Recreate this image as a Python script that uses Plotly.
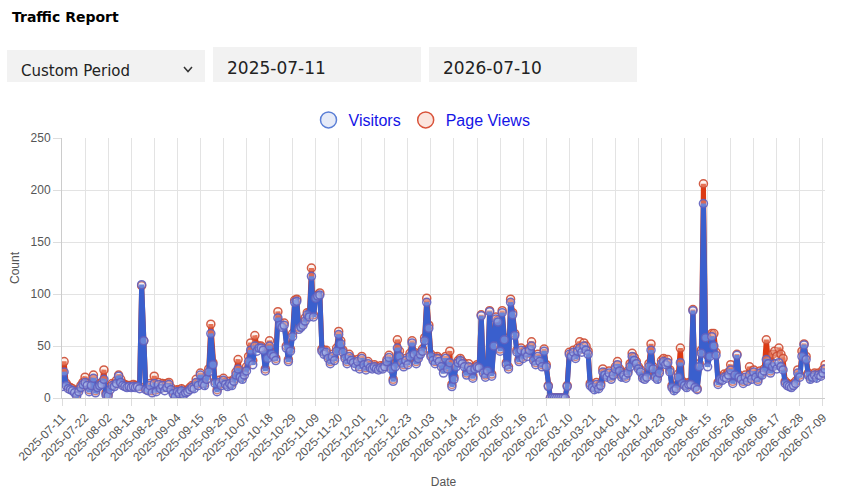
import pandas as pd
import plotly.graph_objects as go

START_DATE = "2025-07-11"
END_DATE = "2026-07-10"

visitors = [
    11, 25, 12, 9, 8, 7, 5, 2, 6, 10,
    13, 15, 12, 6, 12, 19, 5, 10, 12, 13,
    18, 3, 2, 8, 12, 11, 14, 21, 15, 12,
    11, 10, 11, 10, 11, 10, 11, 9, 109, 55,
    8, 7, 12, 5, 14, 6, 13, 9, 12, 7,
    10, 13, 8, 4, 1, 6, 4, 7, 3, 5,
    6, 8, 10, 9, 15, 12, 22, 14, 12, 18,
    25, 62, 32, 14, 6, 15, 12, 17, 13, 11,
    14, 12, 16, 22, 28, 20, 18, 22, 26, 35,
    46, 32, 50, 45, 48, 48, 46, 26, 38, 50,
    42, 40, 36, 77, 70, 68, 70, 48, 35, 45,
    59, 92, 93, 66, 68, 70, 74, 80, 78, 117,
    78, 96, 98, 99, 45, 42, 44, 38, 33, 40,
    36, 45, 61, 52, 44, 38, 33, 40, 36, 34,
    30, 35, 28, 38, 32, 27, 33, 29, 28, 30,
    28, 27, 29, 28, 30, 35, 39, 28, 16, 30,
    48, 40, 34, 30, 36, 32, 40, 53, 42, 33,
    38, 42, 45, 55, 92, 67, 40, 36, 33, 38,
    35, 30, 24, 38, 28, 34, 11, 18, 30, 34,
    36, 33, 30, 22, 30, 27, 19, 28, 30, 29,
    79, 24, 20, 26, 83, 21, 50, 76, 73, 45,
    82, 56, 32, 28, 92, 80, 60, 44, 35, 46,
    38, 44, 40, 46, 50, 36, 32, 40, 35, 30,
    45, 30, 11, 0, 0, 0, 0, 0, 0, 0,
    0, 11, 42, 40, 44, 38, 45, 48, 44, 50,
    46, 42, 12, 10, 8, 13, 9, 12, 25, 22,
    20, 24, 18, 22, 28, 32, 26, 20, 22, 19,
    24, 30, 40, 36, 33, 28, 25, 19, 18, 20,
    30, 46, 28, 20, 18, 24, 33, 35, 32, 34,
    25, 10, 7, 9, 20, 34, 14, 12, 10, 13,
    13, 84, 10, 8, 30, 43, 187, 58, 30, 40,
    59, 50, 41, 13, 18, 17, 20, 19, 22, 27,
    14, 22, 41, 20, 18, 14, 20, 16, 22, 18,
    25, 20, 16, 24, 22, 26, 37, 33, 24, 30,
    33, 28, 34, 30, 27, 14, 12, 11, 10, 12,
    14, 24, 20, 40, 51, 37, 22, 18, 20, 22,
    19, 22, 21, 24, 28,
]

page_views = [
    17, 35, 14, 11, 10, 9, 7, 4, 8, 12,
    15, 20, 14, 8, 14, 22, 7, 12, 14, 15,
    27, 5, 4, 11, 14, 13, 17, 22, 18, 14,
    13, 12, 12, 12, 13, 12, 12, 11, 108, 55,
    9, 9, 14, 7, 21, 8, 15, 11, 14, 10,
    14, 15, 10, 6, 3, 8, 6, 9, 5, 7,
    8, 10, 12, 12, 18, 14, 24, 16, 14, 21,
    28, 71, 34, 16, 8, 17, 14, 19, 15, 13,
    16, 14, 18, 25, 37, 22, 20, 25, 30, 40,
    53, 36, 60, 50, 50, 50, 48, 28, 42, 55,
    44, 43, 38, 83, 72, 70, 72, 50, 37, 47,
    62, 94, 95, 68, 70, 72, 77, 82, 80, 125,
    80, 98, 99, 101, 47, 44, 46, 40, 35, 42,
    38, 48, 64, 55, 46, 40, 35, 42, 38, 36,
    33, 37, 30, 40, 34, 29, 35, 31, 30, 32,
    30, 29, 31, 30, 32, 37, 41, 30, 18, 33,
    56, 45, 36, 32, 38, 34, 43, 55, 44, 35,
    40, 44, 47, 58, 96, 70, 42, 38, 35, 40,
    38, 33, 28, 40, 30, 45, 13, 20, 33, 36,
    38, 35, 33, 24, 33, 29, 21, 30, 32, 31,
    80, 26, 22, 28, 84, 23, 52, 78, 75, 47,
    84, 58, 34, 30, 95, 82, 62, 46, 37, 48,
    40, 46, 43, 48, 54, 38, 34, 42, 37, 32,
    47, 32, 12, 0, 0, 0, 0, 0, 0, 0,
    0, 12, 44, 42, 46, 40, 48, 54, 47, 53,
    50, 45, 14, 12, 10, 15, 11, 14, 28, 24,
    22, 26, 20, 24, 30, 35, 28, 22, 24, 21,
    26, 33, 43, 39, 35, 30, 27, 21, 20, 22,
    33, 52, 30, 22, 20, 26, 36, 38, 35, 37,
    27, 12, 9, 11, 23, 48, 16, 14, 12, 15,
    15, 85, 12, 9, 33, 46, 206, 60, 41, 44,
    62, 62, 44, 15, 21, 20, 23, 22, 25, 32,
    16, 25, 42, 22, 20, 16, 22, 18, 30, 20,
    27, 22, 18, 26, 24, 28, 56, 35, 26, 42,
    45, 40, 48, 42, 38, 16, 14, 13, 12, 14,
    16, 27, 22, 45, 52, 40, 24, 20, 22, 24,
    22, 24, 23, 27, 32,
]

dates = pd.date_range(START_DATE, END_DATE, freq="D")
n = min(len(dates), len(visitors), len(page_views))
dates = dates[:n]

y_ticks = [0, 50, 100, 150, 200, 250]

W, H = 845, 500
ML, MR, MT, MB = 62, 20, 138, 102
PW, PH = W - ML - MR, H - MT - MB


def px(x):
    return (x - ML) / PW


def py(y):
    return (H - MB - y) / PH


BLUE = "#3a5fcd"
RED = "#dc3912"

fig = go.Figure()

fig.add_trace(go.Scatter(
    x=dates, y=page_views[:n], mode="lines+markers", name="Page Views",
    showlegend=False,
    line=dict(color=RED, width=5),
    marker=dict(size=8, color="rgba(250,220,210,0.35)",
                line=dict(color="rgba(205,75,50,0.9)", width=1.5)),
))
fig.add_trace(go.Scatter(
    x=dates, y=visitors[:n], mode="lines+markers", name="Visitors",
    showlegend=False,
    line=dict(color=BLUE, width=5),
    marker=dict(size=8, color="rgba(215,222,245,0.3)",
                line=dict(color="rgba(95,95,190,0.9)", width=1.5)),
))
# legend entries
fig.add_trace(go.Scatter(
    x=[None], y=[None], mode="markers", name="Visitors", legendrank=1,
    marker=dict(size=22, color="#e6ebf8", line=dict(color="#5b7fd6", width=1.5)),
))
fig.add_trace(go.Scatter(
    x=[None], y=[None], mode="markers", name="Page Views", legendrank=2,
    marker=dict(size=22, color="#fbe5de", line=dict(color="#d9533a", width=1.5)),
))

shapes = []
for (x0, x1, y0, y1) in [(7, 205, 50, 82), (213, 421, 47, 82), (429, 637, 47, 82)]:
    shapes.append(dict(type="rect", xref="paper", yref="paper",
                       x0=px(x0), x1=px(x1), y0=py(y1), y1=py(y0),
                       fillcolor="#f2f2f2", line=dict(width=0), layer="above"))
shapes.append(dict(type="path", xref="paper", yref="paper",
                   path=f"M {px(184)},{py(67)} L {px(188)},{py(71.5)} L {px(192)},{py(67)}",
                   line=dict(color="#333333", width=1.5)))

annotations = [
    dict(text="<b>Traffic Report</b>", x=px(10), y=py(17), xref="paper", yref="paper",
         xanchor="left", yanchor="middle", showarrow=False,
         font=dict(family="DejaVu Sans", size=14, color="#000000")),
    dict(text="Custom Period", x=px(19), y=py(71), xref="paper", yref="paper",
         xanchor="left", yanchor="middle", showarrow=False,
         font=dict(family="DejaVu Sans", size=15, color="#222222")),
    dict(text="2025-07-11", x=px(225), y=py(68), xref="paper", yref="paper",
         xanchor="left", yanchor="middle", showarrow=False,
         font=dict(family="DejaVu Sans", size=17, color="#222222")),
    dict(text="2026-07-10", x=px(441), y=py(68), xref="paper", yref="paper",
         xanchor="left", yanchor="middle", showarrow=False,
         font=dict(family="DejaVu Sans", size=17, color="#222222")),
]

fig.update_layout(
    width=W, height=H,
    margin=dict(l=ML, r=MR, t=MT, b=MB, pad=0, autoexpand=False),
    paper_bgcolor="white", plot_bgcolor="white",
    font=dict(family="Liberation Sans, Arial, sans-serif", size=12, color="#555555"),
    shapes=shapes, annotations=annotations,
    legend=dict(orientation="h", xref="paper", yref="paper",
                x=px(422), xanchor="center", y=py(120), yanchor="middle",
                font=dict(family="Liberation Sans, Arial, sans-serif", size=16, color="#1414e6"),
                itemwidth=30, bgcolor="rgba(0,0,0,0)"),
    showlegend=True,
    xaxis=dict(
        type="date", range=[START_DATE, END_DATE],
        tick0=START_DATE, dtick=11 * 86400000, tickformat="%Y-%m-%d",
        tickangle=-45, tickfont=dict(size=12, color="#555555"),
        showgrid=True, gridcolor="#e3e3e3", gridwidth=1,
        ticks="outside", ticklen=7, tickcolor="#dddddd",
        showline=True, linecolor="#cccccc", linewidth=1,
        zeroline=False,
        title=dict(text="Date", font=dict(size=12, color="#555555"), standoff=14),
    ),
    yaxis=dict(
        range=[0, 250], tickvals=y_ticks,
        tickfont=dict(size=12, color="#555555"),
        showgrid=True, gridcolor="#e3e3e3", gridwidth=1,
        ticks="outside", ticklen=8, tickcolor="#dddddd",
        showline=True, linecolor="#cccccc", linewidth=1,
        zeroline=False,
        title=dict(text="Count", font=dict(size=12, color="#555555"), standoff=8),
    ),
)

fig.write_html("out.html")
